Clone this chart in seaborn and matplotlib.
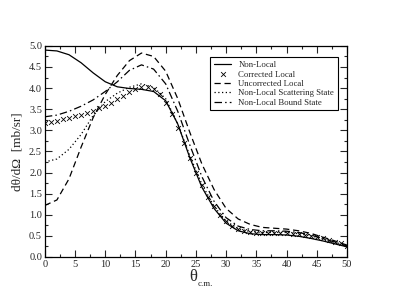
import numpy as np
import pandas as pd
import matplotlib
matplotlib.use("Agg")
import matplotlib.pyplot as plt
import seaborn as sns

# ---- data ----
theta = [0, 2, 4, 6, 8, 10, 12, 14, 16, 18, 20, 22, 24, 26, 28, 30, 32, 34, 36, 38, 40, 42, 44, 46, 48, 50]
non_local = [4.90, 4.88, 4.79, 4.60, 4.36, 4.15, 4.03, 3.99, 3.97, 3.92, 3.70, 3.15, 2.35, 1.65, 1.15, 0.80,
             0.62, 0.55, 0.53, 0.53, 0.52, 0.49, 0.44, 0.38, 0.31, 0.24]
uncorrected = [1.22, 1.35, 1.85, 2.60, 3.30, 3.85, 4.30, 4.65, 4.83, 4.75, 4.40, 3.75, 2.95, 2.20, 1.60, 1.15,
               0.90, 0.77, 0.70, 0.68, 0.66, 0.62, 0.56, 0.47, 0.38, 0.28]
scattering = [2.25, 2.32, 2.55, 2.90, 3.35, 3.68, 3.88, 4.02, 4.10, 4.02, 3.75, 3.15, 2.40, 1.72, 1.20, 0.85,
              0.67, 0.60, 0.58, 0.58, 0.58, 0.55, 0.50, 0.43, 0.34, 0.25]
bound = [3.32, 3.36, 3.45, 3.57, 3.72, 3.92, 4.15, 4.42, 4.55, 4.45, 4.10, 3.45, 2.65, 1.90, 1.32, 0.93,
         0.73, 0.65, 0.62, 0.62, 0.61, 0.58, 0.52, 0.44, 0.35, 0.26]

theta_c = list(range(0, 51))
corrected = [3.17, 3.20, 3.23, 3.26, 3.29, 3.33, 3.37, 3.41, 3.46, 3.52, 3.58, 3.65, 3.73, 3.82, 3.90, 3.97,
             4.02, 4.03, 3.98, 3.85, 3.65, 3.38, 3.05, 2.70, 2.35, 2.00, 1.70, 1.43, 1.20, 1.00, 0.85, 0.74,
             0.66, 0.61, 0.58, 0.57, 0.56, 0.56, 0.56, 0.56, 0.56, 0.55, 0.54, 0.52, 0.50, 0.47, 0.44, 0.40,
             0.36, 0.32, 0.27]

xticks = [0, 5, 10, 15, 20, 25, 30, 35, 40, 45, 50]
yticks = [0.0, 0.5, 1.0, 1.5, 2.0, 2.5, 3.0, 3.5, 4.0, 4.5, 5.0]

sns.set_style("ticks")
plt.rcParams['font.family'] = ['Liberation Serif', 'DejaVu Serif']

fig = plt.figure(figsize=(4.15, 2.94), dpi=100)
ax = fig.add_axes([0.108, 0.126, 0.728, 0.718])

lw = 0.9
sns.lineplot(x=theta, y=non_local, ax=ax, color='black', lw=lw, label='Non-Local')
sns.scatterplot(x=theta_c, y=corrected, ax=ax, color='black', marker='x', s=12, linewidth=0.6,
                label='Corrected Local', zorder=3)
sns.lineplot(x=theta, y=uncorrected, ax=ax, color='black', lw=lw, label='Uncorrected Local')
ax.lines[-1].set_dashes([5, 3])
sns.lineplot(x=theta, y=scattering, ax=ax, color='black', lw=lw, label='Non-Local Scattering State')
ax.lines[-1].set_dashes([1, 2])
sns.lineplot(x=theta, y=bound, ax=ax, color='black', lw=lw, label='Non-Local Bound State')
ax.lines[-1].set_dashes([6, 2.5, 1.2, 2.5])

ax.set_xlim(0, 50)
ax.set_ylim(0, 5)
ax.set_xticks(xticks)
ax.set_xticklabels([str(t) for t in xticks])
ax.set_yticks(yticks)
ax.set_yticklabels([f"{t:.1f}" for t in yticks])
ax.set_xticks(np.arange(0, 50.1, 2.5), minor=True)
ax.set_yticks(np.arange(0, 5.01, 0.25), minor=True)
ax.tick_params(which='both', direction='in', top=True, right=True, labelsize=7.5, pad=2, width=0.8)
ax.tick_params(which='major', length=5)
ax.tick_params(which='minor', length=2.5)
for s in ax.spines.values():
    s.set_linewidth(0.9)
    s.set_color('black')

ax.set_xlabel('')
ax.text(0.505, -0.055, 'θ', transform=ax.transAxes, fontsize=12, ha='right', va='top')
ax.text(0.505, -0.11, 'c.m.', transform=ax.transAxes, fontsize=6.5, ha='left', va='top')
ax.set_ylabel('dθ/dΩ  [mb/sr]', fontsize=9.5, labelpad=4)

leg = ax.legend(loc='upper left', bbox_to_anchor=(0.548, 0.945), fontsize=6.3, frameon=True,
                fancybox=False, edgecolor='black', framealpha=1, handlelength=2.0,
                borderpad=0.4, labelspacing=0.15, handletextpad=0.8, borderaxespad=0)
leg.get_frame().set_linewidth(0.8)

fig.savefig('out.png', dpi=100)
